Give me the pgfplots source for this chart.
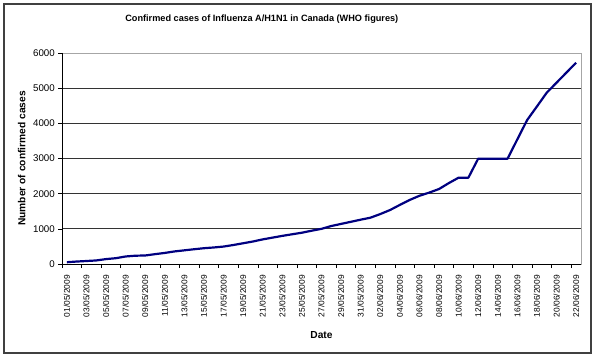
\documentclass[border=0pt]{standalone}
\usepackage{pgfplots}
\pgfplotsset{compat=1.18}
\usepackage{pgfplotstable}
\usepackage{fontspec}
\setmainfont{Liberation Sans}
\pgfplotstableread{
d val
0 51
1 70
2 85
3 101
4 140
5 165
6 214
7 236
8 242
9 280
10 315
11 358
12 389
13 420
14 449
15 470
16 496
17 540
18 590
19 640
20 700
21 750
22 800
23 845
24 890
25 947
26 1000
27 1080
28 1140
29 1200
30 1260
31 1317
32 1420
33 1535
34 1680
35 1820
36 1940
37 2030
38 2132
39 2300
40 2455
41 2455
42 2995
43 2995
44 2995
45 2995
46 3545
47 4094
48 4480
49 4871
50 5155
51 5440
52 5724
}\cases
\begin{document}
\begin{tikzpicture}
\useasboundingbox (0,0) rectangle (595bp,357bp);
\draw[black!75, line width=1.5bp] (4bp,4bp) rectangle (591bp,353bp);
\begin{axis}[
  at={(62bp,93bp)}, anchor=south west,
  scale only axis, width=519bp, height=211bp,
  xmin=-0.5, xmax=52.5, ymin=0, ymax=6000,
  xtick={0,2,...,52},
  xticklabels={01/05/2009,03/05/2009,05/05/2009,07/05/2009,09/05/2009,11/05/2009,13/05/2009,15/05/2009,17/05/2009,19/05/2009,21/05/2009,23/05/2009,25/05/2009,27/05/2009,29/05/2009,31/05/2009,02/06/2009,04/06/2009,06/06/2009,08/06/2009,10/06/2009,12/06/2009,14/06/2009,16/06/2009,18/06/2009,20/06/2009,22/06/2009},
  minor xtick={-0.5,1.5,...,51.5},
  ytick={0,1000,...,6000},
  xtick pos=bottom, ytick pos=left,
  tick align=outside,
  major x tick style={draw=none},
  minor tick length=4bp, major tick length=4bp,
  tick style={black, line width=0.6bp},
  ymajorgrids, grid style={black!80, line width=0.7bp},
  axis line style={draw=gray!70, line width=0.8bp},
  /pgf/number format/assume math mode=true,
  /pgf/number format/1000 sep={},
  x tick label style={font=\fontsize{8.4}{10}\selectfont, rotate=90, anchor=east, inner xsep=7bp, inner ysep=0bp},
  y tick label style={font=\fontsize{9.75}{11}\selectfont, inner xsep=3bp},
  title={Confirmed cases of Influenza A/H1N1 in Canada (WHO figures)},
  every axis title/.style={at={(axis description cs:0.385,1.161)}, anchor=center, font=\bfseries\fontsize{9.2}{11}\selectfont},
  xlabel={Date},
  xlabel style={at={(axis description cs:0.5,-0.336)}, anchor=center, font=\bfseries\fontsize{10.25}{12}\selectfont},
  ylabel={Number of confirmed cases},
  ylabel style={at={(axis description cs:-0.0776,0.5)}, anchor=center, font=\bfseries\fontsize{10.25}{12}\selectfont},
  clip=false,
]
\addplot[color={rgb,255:red,0;green,0;blue,128}, line width=2.2bp, line join=round] table[x=d, y=val] {\cases};
\draw[black, line width=0.8bp] (rel axis cs:0,1) -- (rel axis cs:0,0) -- (rel axis cs:1,0);
\end{axis}
\end{tikzpicture}
\end{document}
